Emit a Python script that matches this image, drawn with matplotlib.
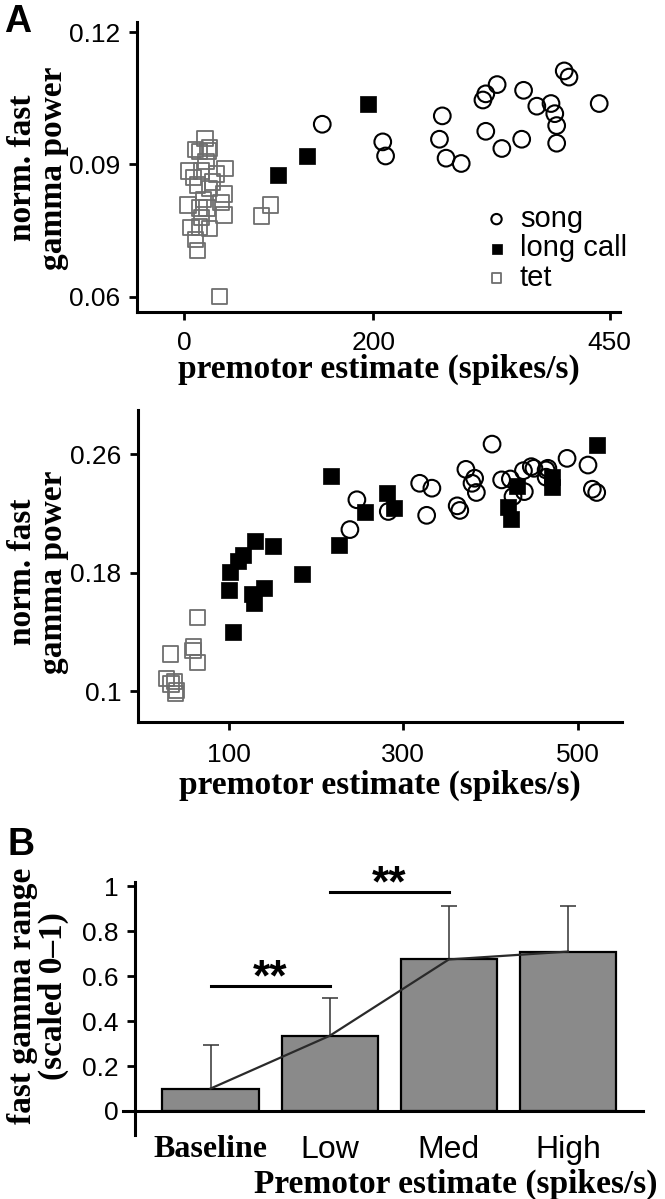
import matplotlib
matplotlib.use('Agg')
import matplotlib.pyplot as plt
import numpy as np

SERIF = 'Liberation Serif'
SANS = ['Liberation Sans Narrow', 'Liberation Sans', 'DejaVu Sans']

''' Panel A, top: values read off the picture '''
song_x_top = [146, 210, 213, 273, 270, 277, 293, 316, 319, 331, 319, 336, 359, 357,
              373, 388, 392, 394, 394, 402, 407, 439]
song_y_top = [0.0991, 0.0951, 0.0919, 0.1010, 0.0957, 0.0914, 0.0902, 0.1046, 0.1060,
              0.1081, 0.0975, 0.0936, 0.1068, 0.0957, 0.1032, 0.1038, 0.1015, 0.0988,
              0.0948, 0.1112, 0.1098, 0.1038]
call_x_top = [99, 130, 194]
call_y_top = [0.0875, 0.0919, 0.1036]
tet_x_top = [22, 12, 27, 16, 23, 5, 18, 34, 43, 14, 27, 42, 4, 16, 24, 39, 42, 7, 16,
             27, 12, 14, 37, 82, 91, 10, 20, 30, 18, 25]
tet_y_top = [0.0959, 0.0933, 0.0937, 0.0929, 0.0906, 0.0885, 0.0885, 0.0878, 0.0891,
             0.0853, 0.0846, 0.0833, 0.0808, 0.0801, 0.0801, 0.0813, 0.0785, 0.0756,
             0.0758, 0.0755, 0.0730, 0.0704, 0.0600, 0.0783, 0.0808, 0.0870, 0.0820,
             0.0860, 0.0780, 0.0930]

''' Panel A, bottom '''
tet_x_bot = [33, 64, 59, 64, 29, 34, 38, 39, 40, 60]
tet_y_bot = [0.1253, 0.1498, 0.1275, 0.1197, 0.1085, 0.1051, 0.1067, 0.0984, 0.1007, 0.1300]
call_x_bot = [100, 102, 111, 116, 130, 151, 127, 129, 141, 105, 184, 217, 226, 256,
              281, 290, 420, 424, 431, 471, 471, 522]
call_y_bot = [0.1684, 0.1807, 0.1878, 0.1923, 0.2012, 0.1979, 0.1655, 0.1594, 0.1699,
              0.1404, 0.1789, 0.2453, 0.1990, 0.2207, 0.2336, 0.2236, 0.2242, 0.2164,
              0.2388, 0.2448, 0.2377, 0.2660]
song_x_bot = [239, 247, 283, 319, 333, 327, 362, 365, 372, 382, 379, 384, 402, 413, 423,
              426, 439, 438, 447, 450, 464, 466, 464, 488, 512, 517, 522]
song_y_bot = [0.2091, 0.2292, 0.2213, 0.2403, 0.2370, 0.2187, 0.2251, 0.2220, 0.2497,
              0.2437, 0.2403, 0.2341, 0.2667, 0.2426, 0.2432, 0.2314, 0.2347, 0.2488,
              0.2515, 0.2504, 0.2493, 0.2504, 0.2444, 0.2571, 0.2526, 0.2363, 0.2341]

''' Panel B '''
categories = ['Baseline', 'Low', 'Med', 'High']
means = [0.10, 0.335, 0.675, 0.71]
errs = [0.195, 0.17, 0.24, 0.205]
sig_pairs = [(0, 1), (1, 2)]
sig_levels = [0.557, 0.975]

W, H = 665, 1199
fig = plt.figure(figsize=(W / 100, H / 100), dpi=100)


def rect(left, top, right, bottom):
    return [left / W, 1 - bottom / H, (right - left) / W, (bottom - top) / H]


def style_axes(ax):
    for s in ['top', 'right']:
        ax.spines[s].set_visible(False)
    for s in ['left', 'bottom']:
        ax.spines[s].set_linewidth(2.2)
    ax.tick_params(direction='out', length=6, width=2, pad=6)
    for lab in ax.get_xticklabels() + ax.get_yticklabels():
        lab.set_family(SANS)
        lab.set_fontsize(19)


def scatter_sets(ax, sx, sy, cx, cy, tx, ty):
    ax.scatter(tx, ty, s=11 ** 2, marker='s', facecolors='none', edgecolors='#6e6e6e',
               linewidths=1.3, label='tet', zorder=2)
    ax.scatter(sx, sy, s=12 ** 2, marker='o', facecolors='none', edgecolors='black',
               linewidths=1.5, label='song', zorder=3)
    ax.scatter(cx, cy, s=11.5 ** 2, marker='s', facecolors='black', edgecolors='black',
               linewidths=0.5, label='long call', zorder=4)


def ylabel(y, txt):
    fig.text(38 / W, 1 - y / H, txt, rotation=90, ha='center', va='center',
             multialignment='center', family=SERIF, weight='bold', fontsize=24,
             linespacing=1.0)


# ---- A top
ax1 = fig.add_axes(rect(137, 22, 620, 312))
scatter_sets(ax1, song_x_top, song_y_top, call_x_top, call_y_top, tet_x_top, tet_y_top)
ax1.set_xlim(-50, 461)
ax1.set_ylim(0.0565, 0.1223)
ax1.set_xticks([0, 200, 450])
ax1.set_yticks([0.06, 0.09, 0.12])
ax1.set_yticklabels(['0.06', '0.09', '0.12'])
style_axes(ax1)
ax1.tick_params(axis='x', pad=8)
h, l = ax1.get_legend_handles_labels()
order = [l.index('song'), l.index('long call'), l.index('tet')]
ax1.legend([h[i] for i in order], [l[i] for i in order], loc='upper left',
           bbox_to_anchor=(0.69, 0.42), frameon=False, markerscale=0.62,
           handlelength=0.8, handletextpad=0.4, labelspacing=0.05, borderpad=0,
           prop={'family': SANS, 'size': 21})
ax1.set_xlabel('premotor estimate (spikes/s)', family=SERIF, weight='bold', fontsize=24,
               labelpad=-1)
ylabel(168, 'norm. fast\ngamma power')
fig.text(4 / W, 1 - 32 / H, 'A', family='Liberation Sans', weight='bold', fontsize=27,
         ha='left', va='baseline')

# ---- A bottom
ax2 = fig.add_axes(rect(138, 410, 622, 722))
scatter_sets(ax2, song_x_bot, song_y_bot, call_x_bot, call_y_bot, tet_x_bot, tet_y_bot)
ax2.set_xlim(-4, 551)
ax2.set_ylim(0.0794, 0.2897)
ax2.set_xticks([100, 300, 500])
ax2.set_yticks([0.1, 0.18, 0.26])
ax2.set_yticklabels(['0.1', '0.18', '0.26'])
style_axes(ax2)
ax2.tick_params(axis='x', pad=9)
ax2.set_xlabel('premotor estimate (spikes/s)', family=SERIF, weight='bold', fontsize=24,
               labelpad=2)
ylabel(572, 'norm. fast\ngamma power')

# ---- B
ax3 = fig.add_axes(rect(135, 882, 643, 1135))
pos = np.arange(len(categories))
ax3.bar(pos, means, width=0.81, color='#8a8a8a', edgecolor='black', linewidth=1.6,
        zorder=2)
ax3.errorbar(pos, means, yerr=[np.zeros(len(errs)), errs], fmt='none', ecolor='#333333',
             elinewidth=1.1, capsize=6, capthick=1.1, zorder=1)
ax3.plot(pos, means, color='#2a2a2a', linewidth=1.6, zorder=3)
for (a, b), lev in zip(sig_pairs, sig_levels):
    ax3.plot([pos[a], pos[b]], [lev, lev], color='black', linewidth=2.2, zorder=3)
    ax3.text((pos[a] + pos[b]) / 2, lev - 0.02, '**', ha='center', va='baseline',
             family='Liberation Sans', weight='bold', fontsize=32)
ax3.set_xlim(-0.635, 3.63)
ax3.set_ylim(-0.107, 1.02)
ax3.set_yticks([0, 0.2, 0.4, 0.6, 0.8, 1])
ax3.set_yticklabels(['0', '0.2', '0.4', '0.6', '0.8', '1'])
ax3.set_xticks(pos)
ax3.set_xticklabels(categories)
style_axes(ax3)
ax3.spines['bottom'].set_visible(False)
ax3.axhline(0, xmin=-0.024, xmax=1, color='black', linewidth=2.2, clip_on=False, zorder=4)
ax3.tick_params(axis='x', length=0, pad=0)
for lab in ax3.get_xticklabels():
    lab.set_fontsize(23)
ax3.get_xticklabels()[0].set_family(SERIF)
ax3.get_xticklabels()[0].set_weight('bold')
ax3.set_xlabel('Premotor estimate (spikes/s)', family=SERIF, weight='bold', fontsize=24)
ax3.xaxis.set_label_coords(1.028, -0.195)
ax3.xaxis.label.set_ha('right')
ax3.xaxis.label.set_va('center')
ylabel(996, 'fast gamma range\n(scaled 0\u20131)')
fig.text(8 / W, 1 - 855 / H, 'B', family='Liberation Sans', weight='bold', fontsize=27,
         ha='left', va='baseline')

fig.savefig('out.png', dpi=100)
